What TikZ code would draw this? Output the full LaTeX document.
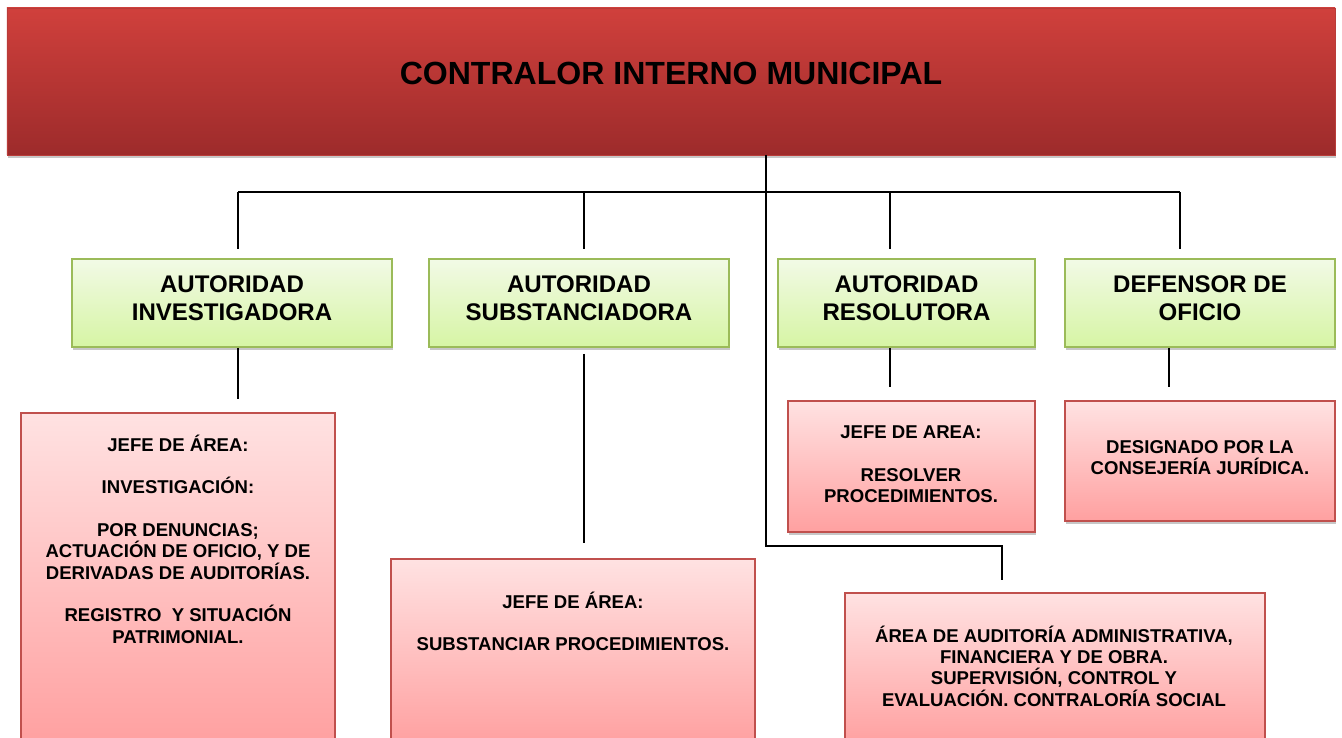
\documentclass[tikz,border=0pt]{standalone}
\usepackage{fontspec}
\setmainfont{Liberation Sans}
\usetikzlibrary{shadows}

\definecolor{headTop}{RGB}{208,64,60}
\definecolor{headBot}{RGB}{157,43,43}
\definecolor{headLine}{RGB}{185,60,57}
\definecolor{authTop}{RGB}{242,250,230}
\definecolor{authBot}{RGB}{214,245,164}
\definecolor{authLine}{RGB}{155,187,89}
\definecolor{taskTop}{RGB}{255,226,226}
\definecolor{taskBot}{RGB}{255,160,160}
\definecolor{taskLine}{RGB}{192,80,77}

\tikzset{
  boxshadow/.style={drop shadow={shadow xshift=0.03cm, shadow yshift=-0.08cm, opacity=0.22, fill=black}},
  headbox/.style={rectangle, inner sep=0pt, top color=headTop, bottom color=headBot, draw=headLine, line width=0.6pt, boxshadow},
  authbox/.style={rectangle, inner sep=0pt, minimum height=2.2cm, top color=authTop, bottom color=authBot, draw=authLine, line width=1.2pt, boxshadow},
  taskbox/.style={rectangle, inner sep=0pt, top color=taskTop, bottom color=taskBot, draw=taskLine, line width=1.2pt, boxshadow},
  headtext/.style={font=\fontsize{22.8pt}{26pt}\selectfont\bfseries, anchor=base, inner sep=0pt},
  authtext/.style={font=\fontsize{17.1pt}{19.7pt}\selectfont\bfseries, align=center, anchor=base, inner sep=0pt},
  tasktext/.style={font=\fontsize{13.2pt}{15.15pt}\selectfont\bfseries, align=center, anchor=base, inner sep=0pt},
  link/.style={line width=1.2pt}
}

\begin{document}
\begin{tikzpicture}
    \useasboundingbox (0,0) rectangle (33.55,-18.45);

    \node[headbox, minimum width=33.2cm, minimum height=3.675cm] (top) at (16.775,-2.0375) {};
    \node[headtext] (topText) at (16.775,-2.125) {CONTRALOR INTERNO MUNICIPAL};

    \node[authbox, minimum width=8cm] (inv) at (5.8,-7.575) {};
    \node[authbox, minimum width=7.5cm] (sub) at (14.475,-7.575) {};
    \node[authbox, minimum width=6.425cm] (res) at (22.6625,-7.575) {};
    \node[authbox, minimum width=6.75cm] (def) at (30,-7.575) {};

    \node[authtext] (invText) at (5.8,-8) {AUTORIDAD\\INVESTIGADORA};
    \node[authtext] (subText) at (14.475,-8) {AUTORIDAD\\SUBSTANCIADORA};
    \node[authtext] (resText) at (22.6625,-8) {AUTORIDAD\\RESOLUTORA};
    \node[authtext] (defText) at (30,-8) {DEFENSOR DE\\OFICIO};

    \node[taskbox, minimum width=7.85cm, minimum height=8.3cm] (invJefe) at (4.45,-14.475) {};
    \node[taskbox, minimum width=9.1cm, minimum height=4.65cm] (subJefe) at (14.325,-16.3) {};
    \node[taskbox, minimum width=6.175cm, minimum height=3.275cm] (resJefe) at (22.7875,-11.6625) {};
    \node[taskbox, minimum width=6.75cm, minimum height=3cm] (defDes) at (30,-11.525) {};
    \node[taskbox, minimum width=10.5cm, minimum height=3.8cm] (audit) at (26.375,-16.725) {};

    \node[tasktext] (invJefeText) at (4.45,-16.075) {JEFE DE ÁREA:\\[\baselineskip]INVESTIGACIÓN:\\[\baselineskip]POR DENUNCIAS;\\ACTUACIÓN DE OFICIO, Y DE\\DERIVADAS DE AUDITORÍAS.\\[\baselineskip]REGISTRO\ \ Y SITUACIÓN\\PATRIMONIAL.};
    \node[tasktext] (subJefeText) at (14.325,-16.2675) {JEFE DE ÁREA:\\[\baselineskip]SUBSTANCIAR PROCEDIMIENTOS.};
    \node[tasktext] (resJefeText) at (22.775,-12.5575) {JEFE DE AREA:\\[\baselineskip]RESOLVER\\PROCEDIMIENTOS.};
    \node[tasktext] (defDesText) at (30,-11.8675) {DESIGNADO POR LA\\CONSEJERÍA JURÍDICA.};
    \node[tasktext] (auditText) at (26.35,-17.65) {ÁREA DE AUDITORÍA ADMINISTRATIVA,\\FINANCIERA Y DE OBRA.\\SUPERVISIÓN, CONTROL Y\\EVALUACIÓN. CONTRALORÍA SOCIAL};

    \coordinate (bus1) at (5.95,-4.8);
    \coordinate (bus2) at (14.6,-4.8);
    \coordinate (bus3) at (22.25,-4.8);
    \coordinate (bus4) at (29.5,-4.8);
    \coordinate (trunk) at (19.15,-13.65);
    \coordinate (elbow) at (25.05,-13.65);

    \draw[link] (bus1) -- (bus4);
    \foreach \b/\n in {bus1/inv, bus2/sub, bus3/res, bus4/def}
        \draw[link] (\b) -- ([yshift=0.225cm]\n.north -| \b);

    \draw[link] (inv.south -| bus1) -- ([yshift=0.325cm]invJefe.north -| bus1);
    \draw[link] ([yshift=-0.15cm]sub.south -| bus2) -- ([yshift=0.375cm]subJefe.north -| bus2);
    \draw[link] (res.south -| bus3) -- ([yshift=0.325cm]resJefe.north -| bus3);
    \draw[link] (def.south -| 29.225,0) -- ([yshift=0.325cm]defDes.north -| 29.225,0);

    \draw[link] (top.south -| trunk) -- (trunk) -- (elbow) -- ([yshift=0.3cm]audit.north -| elbow);
\end{tikzpicture}
\end{document}
